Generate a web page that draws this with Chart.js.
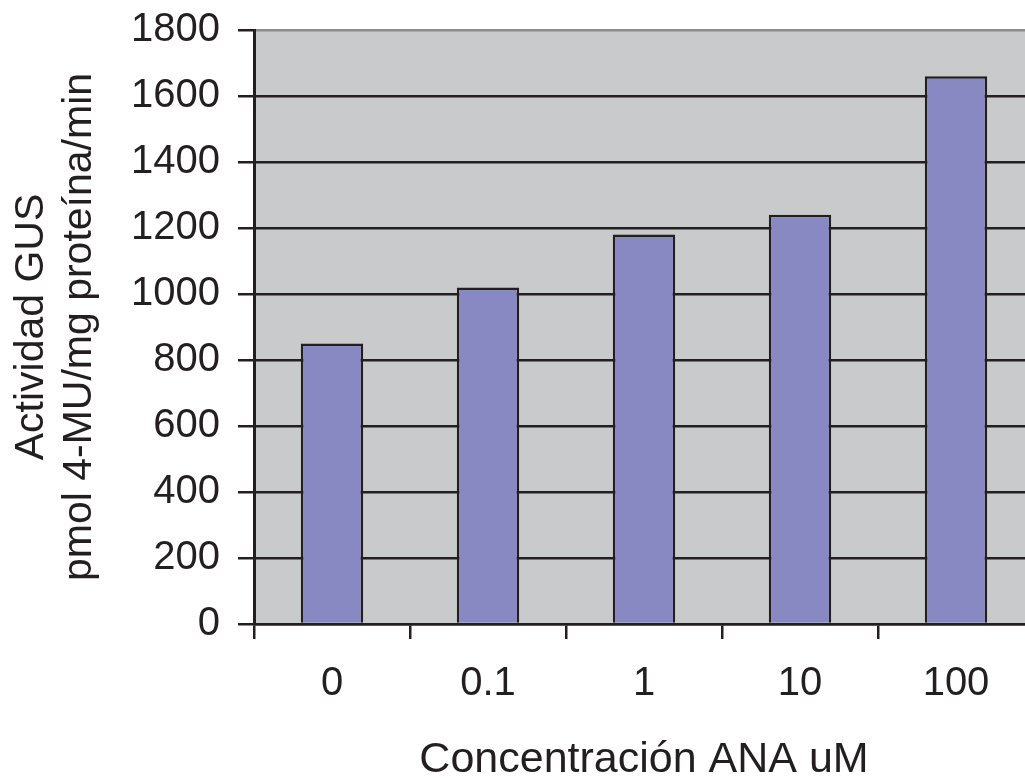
<!DOCTYPE html>
<html>
<head>
<meta charset="utf-8">
<script src="https://cdn.jsdelivr.net/npm/chart.js@4"></script>
<style>
  html, body { margin: 0; padding: 0; background: #ffffff; overflow: hidden; }
  #wrap { position: relative; width: 1034px; height: 779px; }
</style>
</head>
<body>
<div id="wrap"><canvas id="grafico"></canvas></div>
<script>
// Datos
const concentraciones = ["0", "0.1", "1", "10", "100"];
const actividadGUS = [850, 1020, 1180, 1240, 1660];
const ejeY = { min: 0, max: 1800, paso: 200 };

const tinta = "#231f20";
const fuente = "'Liberation Sans', Arial, sans-serif";

// Fondo gris del área de trazado
const fondoArea = {
    id: "fondoArea",
    beforeDraw(chart) {
        const { ctx, chartArea: a } = chart;
        ctx.save();
        ctx.fillStyle = "#c9cacc";
        ctx.fillRect(a.left, a.top, a.right - a.left, a.bottom - a.top);
        ctx.restore();
    }
};

new Chart(document.getElementById("grafico").getContext("2d"), {
    type: "bar",
    data: {
        labels: concentraciones,
        datasets: [{
            data: actividadGUS,
            backgroundColor: "#8889c2",
            borderColor: tinta,
            borderWidth: 2.5,
            barPercentage: 0.4,
            categoryPercentage: 1
        }]
    },
    options: {
        responsive: true,
        maintainAspectRatio: false,
        animation: false,
        layout: { padding: { top: 30, right: 0, left: 0, bottom: 0 } },
        plugins: {
            legend: { display: false },
            tooltip: { enabled: false }
        },
        scales: {
            x: {
                afterFit: (s) => { s.height = 155; s.paddingLeft = 0; s.paddingRight = 0; },
                grid: {
                    offset: true,
                    drawOnChartArea: false,
                    tickLength: 15,
                    color: tinta,
                    lineWidth: 2.5
                },
                border: { color: tinta, width: 2.5 },
                ticks: {
                    color: tinta,
                    padding: 21,
                    font: { family: fuente, size: 40 }
                },
                title: {
                    display: true,
                    text: "Concentración ANA uM",
                    color: tinta,
                    padding: { top: 0, bottom: 0 },
                    font: { family: fuente, size: 43, lineHeight: 0.9 }
                }
            },
            y: {
                min: ejeY.min,
                max: ejeY.max,
                afterFit: (s) => { s.width = 254; s.paddingTop = 0; s.paddingBottom = 0; },
                grid: {
                    color: (c) => c.tick && c.tick.value === ejeY.max ? "#8d8d8f" : tinta,
                    tickColor: tinta,
                    lineWidth: 2.5,
                    tickLength: 16
                },
                border: { color: tinta, width: 3 },
                ticks: {
                    stepSize: ejeY.paso,
                    color: tinta,
                    padding: 18,
                    font: { family: fuente, size: 40 },
                    callback: (v) => String(v)
                },
                title: {
                    display: true,
                    text: ["Actividad GUS", "pmol 4-MU/mg proteína/min"],
                    color: tinta,
                    padding: { top: 7, bottom: 0 },
                    font: { family: fuente, size: 41, lineHeight: 1.18 }
                }
            }
        }
    },
    plugins: [fondoArea]
});
</script>
</body>
</html>
